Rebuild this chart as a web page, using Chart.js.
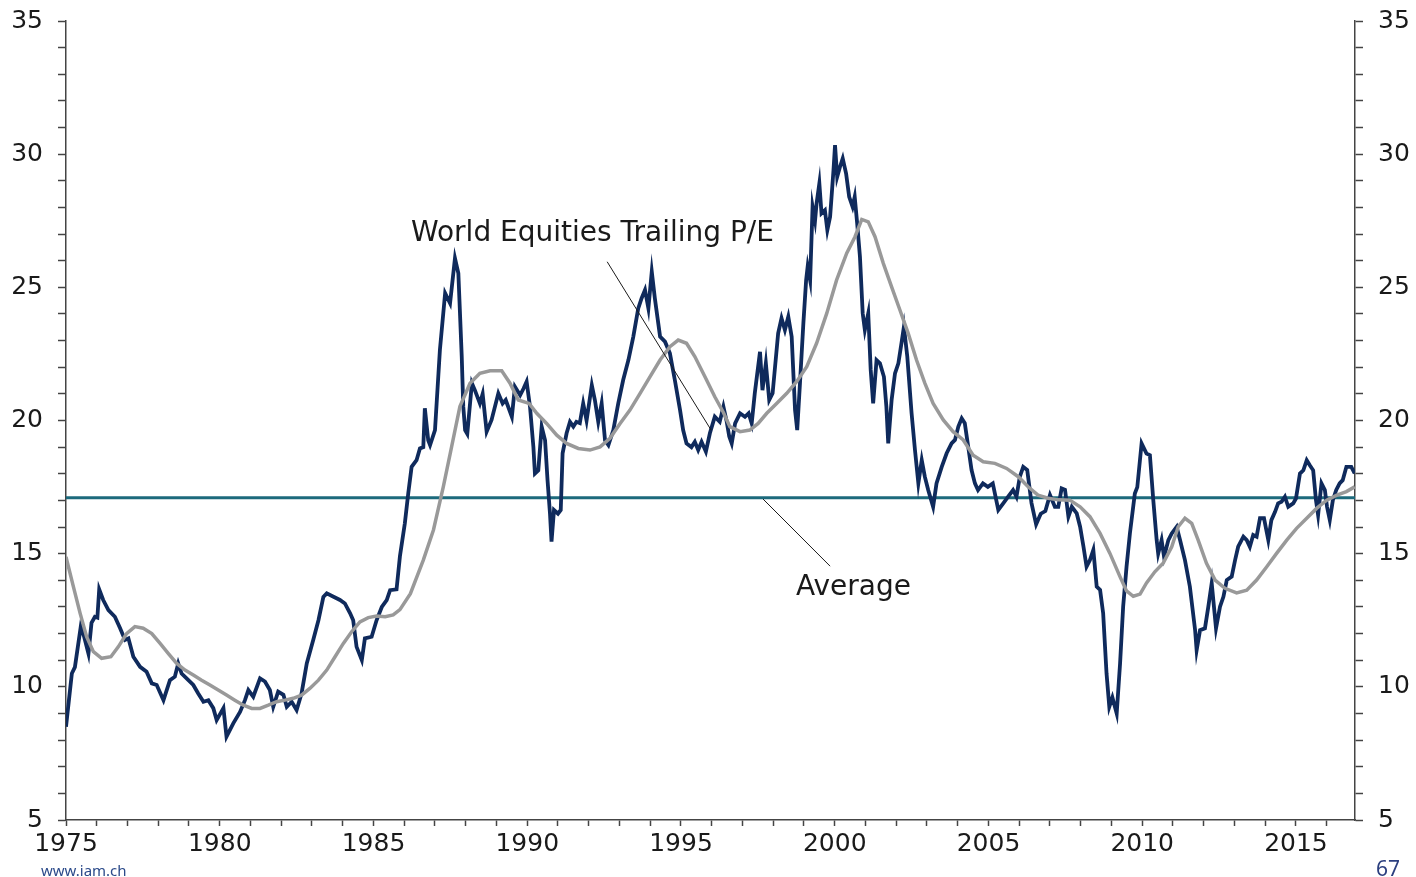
<!DOCTYPE html>
<html>
<head>
<meta charset="utf-8">
<script src="https://cdn.jsdelivr.net/npm/chart.js@4.4.1/dist/chart.umd.min.js"></script>
<style>
    body { margin: 0; background: #fff; }
    #wrap { position: relative; width: 1416px; height: 877px; }
    .foot-left { position: absolute; left: 41px; top: 860px; font: 15px "Noto Sans", sans-serif; color: #2b4a8a; }
    .foot-right { position: absolute; left: 1376px; top: 854px; font: 21px "Noto Sans", sans-serif; color: #2b3f7f; }
</style>
</head>
<body>
<div id="wrap">
    <canvas id="chart"></canvas>
    <div class="foot-left">www.iam.ch</div>
    <div class="foot-right">67</div>
</div>
<script>
// World equities trailing P/E (monthly)
const peYears = [
    1975.00, 1975.19, 1975.29, 1975.48, 1975.59, 1975.73, 1975.83, 1975.94, 1976.02, 1976.08,
    1976.21, 1976.38, 1976.59, 1976.76, 1976.92, 1977.03, 1977.19, 1977.41, 1977.62, 1977.79,
    1977.95, 1978.17, 1978.38, 1978.54, 1978.65, 1978.76, 1978.98, 1979.14, 1979.30, 1979.47,
    1979.63, 1979.79, 1979.90, 1980.12, 1980.22, 1980.44, 1980.66, 1980.82, 1980.93, 1981.09,
    1981.31, 1981.47, 1981.63, 1981.74, 1981.90, 1982.07, 1982.18, 1982.34, 1982.50, 1982.66,
    1982.83, 1983.04, 1983.21, 1983.37, 1983.48, 1983.70, 1983.91, 1984.07, 1984.24, 1984.34,
    1984.45, 1984.62, 1984.72, 1984.94, 1985.10, 1985.27, 1985.43, 1985.54, 1985.75, 1985.86,
    1986.02, 1986.13, 1986.24, 1986.40, 1986.51, 1986.62, 1986.67, 1986.78, 1986.84, 1987.00,
    1987.16, 1987.33, 1987.49, 1987.65, 1987.76, 1987.87, 1987.92, 1987.98, 1988.05, 1988.20,
    1988.30, 1988.46, 1988.55, 1988.68, 1988.84, 1989.06, 1989.20, 1989.30, 1989.50, 1989.60,
    1989.77, 1989.88, 1989.98, 1990.09, 1990.20, 1990.25, 1990.36, 1990.47, 1990.58, 1990.66,
    1990.74, 1990.79, 1990.87, 1991.00, 1991.09, 1991.15, 1991.28, 1991.39, 1991.50, 1991.60,
    1991.71, 1991.82, 1991.93, 1992.10, 1992.20, 1992.31, 1992.42, 1992.53, 1992.64, 1992.80,
    1992.96, 1993.12, 1993.29, 1993.45, 1993.61, 1993.72, 1993.83, 1993.94, 1994.05, 1994.15,
    1994.32, 1994.48, 1994.64, 1994.80, 1994.97, 1995.07, 1995.18, 1995.34, 1995.45, 1995.56,
    1995.67, 1995.81, 1995.94, 1996.10, 1996.26, 1996.38, 1996.48, 1996.57, 1996.65, 1996.76,
    1996.92, 1997.08, 1997.20, 1997.30, 1997.40, 1997.57, 1997.65, 1997.76, 1997.87, 1997.98,
    1998.16, 1998.27, 1998.38, 1998.49, 1998.60, 1998.71, 1998.78, 1998.87, 1998.98, 1999.07,
    1999.12, 1999.20, 1999.28, 1999.36, 1999.41, 1999.50, 1999.57, 1999.68, 1999.76, 1999.85,
    1999.96, 2000.01, 2000.08, 2000.17, 2000.26, 2000.37, 2000.47, 2000.58, 2000.65, 2000.73,
    2000.82, 2000.91, 2000.98, 2001.09, 2001.17, 2001.25, 2001.36, 2001.47, 2001.60, 2001.68,
    2001.74, 2001.85, 2001.96, 2002.07, 2002.17, 2002.25, 2002.36, 2002.50, 2002.61, 2002.72,
    2002.83, 2002.93, 2003.04, 2003.20, 2003.31, 2003.48, 2003.64, 2003.80, 2003.91, 2004.02,
    2004.13, 2004.23, 2004.34, 2004.45, 2004.56, 2004.66, 2004.82, 2004.98, 2005.14, 2005.32,
    2005.48, 2005.64, 2005.80, 2005.91, 2006.02, 2006.13, 2006.26, 2006.40, 2006.55, 2006.70,
    2006.85, 2007.00, 2007.16, 2007.27, 2007.38, 2007.49, 2007.60, 2007.71, 2007.87, 2007.98,
    2008.09, 2008.19, 2008.30, 2008.41, 2008.52, 2008.63, 2008.73, 2008.84, 2008.93, 2009.03,
    2009.17, 2009.28, 2009.38, 2009.49, 2009.60, 2009.76, 2009.84, 2009.98, 2010.14, 2010.25,
    2010.36, 2010.47, 2010.52, 2010.63, 2010.71, 2010.85, 2010.96, 2011.12, 2011.23, 2011.39,
    2011.55, 2011.72, 2011.77, 2011.88, 2012.04, 2012.15, 2012.26, 2012.40, 2012.53, 2012.64,
    2012.75, 2012.91, 2013.02, 2013.12, 2013.29, 2013.40, 2013.50, 2013.61, 2013.72, 2013.83,
    2013.96, 2014.10, 2014.20, 2014.32, 2014.42, 2014.53, 2014.64, 2014.75, 2014.91, 2015.00,
    2015.13, 2015.24, 2015.35, 2015.45, 2015.56, 2015.65, 2015.72, 2015.83, 2015.94, 2016.01,
    2016.10, 2016.20, 2016.31, 2016.42, 2016.52, 2016.64, 2016.80, 2016.91
];
const peValues = [
    8.50, 10.50, 10.74, 12.26, 11.88, 11.25, 12.40, 12.63, 12.60, 13.66,
    13.26, 12.88, 12.63, 12.20, 11.76, 11.82, 11.13, 10.75, 10.57, 10.13,
    10.07, 9.50, 10.25, 10.38, 10.88, 10.50, 10.25, 10.07, 9.75, 9.44,
    9.50, 9.20, 8.75, 9.20, 8.13, 8.63, 9.06, 9.50, 9.88, 9.63,
    10.32, 10.20, 9.88, 9.25, 9.82, 9.70, 9.25, 9.44, 9.13, 9.75,
    10.88, 11.76, 12.50, 13.38, 13.51, 13.38, 13.26, 13.13, 12.76, 12.50,
    11.50, 11.00, 11.82, 11.88, 12.50, 13.00, 13.26, 13.63, 13.66, 14.90,
    16.14, 17.26, 18.26, 18.51, 18.95, 19.00, 20.46, 19.26, 19.08, 19.64,
    22.65, 24.78, 24.40, 26.09, 25.53, 22.40, 20.52, 19.64, 19.50, 21.40,
    21.13, 20.64, 21.00, 19.58, 20.02, 21.02, 20.64, 20.77, 20.14, 21.27,
    20.95, 21.20, 21.46, 20.52, 19.01, 18.01, 18.13, 19.77, 19.26, 17.76,
    16.50, 15.45, 16.64, 16.50, 16.64, 18.77, 19.52, 19.95, 19.77, 19.95,
    19.90, 20.64, 20.00, 21.33, 20.77, 19.95, 20.64, 19.26, 19.08, 19.64,
    20.64, 21.52, 22.27, 23.15, 24.21, 24.59, 24.90, 24.21, 25.59, 24.59,
    23.15, 22.96, 22.52, 21.52, 20.39, 19.64, 19.14, 19.00, 19.20, 18.89,
    19.20, 18.83, 19.52, 20.14, 19.95, 20.52, 20.00, 19.40, 19.14, 19.89,
    20.27, 20.14, 20.27, 19.89, 21.02, 22.58, 21.14, 22.15, 20.77, 21.02,
    23.27, 23.84, 23.40, 23.90, 23.15, 20.39, 19.64, 21.40, 23.65, 25.27,
    25.78, 25.27, 28.03, 27.50, 28.15, 28.90, 27.78, 27.90, 27.15, 27.65,
    29.40, 30.34, 29.15, 29.52, 29.84, 29.27, 28.40, 28.03, 28.40, 27.40,
    26.15, 24.02, 23.40, 24.02, 21.90, 20.64, 22.27, 22.15, 21.64, 20.52,
    19.14, 20.77, 21.77, 22.15, 22.90, 23.52, 22.40, 20.27, 18.89, 17.64,
    18.51, 17.89, 17.39, 16.76, 17.64, 18.26, 18.77, 19.14, 19.27, 19.77,
    20.08, 19.90, 19.02, 18.14, 17.64, 17.39, 17.64, 17.51, 17.64, 16.64,
    16.89, 17.14, 17.39, 17.14, 17.89, 18.26, 18.14, 16.90, 16.10, 16.50,
    16.60, 17.20, 16.76, 16.76, 17.45, 17.40, 16.39, 16.76, 16.51, 16.01,
    15.26, 14.51, 14.76, 15.14, 13.76, 13.64, 12.76, 10.50, 9.25, 9.60,
    9.00, 10.88, 13.01, 14.51, 15.76, 17.26, 17.50, 19.14, 18.76, 18.70,
    17.01, 15.51, 15.00, 15.51, 14.88, 15.51, 15.76, 16.01, 15.51, 14.76,
    13.76, 12.13, 11.38, 12.13, 12.20, 13.01, 13.89, 12.20, 13.01, 13.38,
    14.01, 14.14, 14.76, 15.26, 15.64, 15.51, 15.26, 15.70, 15.64, 16.33,
    16.33, 15.51, 16.26, 16.57, 16.89, 16.95, 17.14, 16.76, 16.89, 17.07,
    18.01, 18.13, 18.51, 18.32, 18.13, 17.01, 16.45, 17.64, 17.39, 16.76,
    16.26, 17.01, 17.39, 17.64, 17.76, 18.26, 18.26, 18.01
];

// grey moving average line
const maYears = [
    1975.00, 1975.24, 1975.46, 1975.67, 1975.89, 1976.16, 1976.46, 1976.70, 1976.97, 1977.24,
    1977.51, 1977.79, 1978.06, 1978.33, 1978.60, 1978.87, 1979.14, 1979.41, 1979.68, 1979.95,
    1980.22, 1980.49, 1980.77, 1981.04, 1981.31, 1981.58, 1981.85, 1982.12, 1982.39, 1982.66,
    1982.93, 1983.21, 1983.48, 1983.75, 1984.02, 1984.29, 1984.56, 1984.83, 1985.10, 1985.38,
    1985.64, 1985.86, 1986.20, 1986.62, 1986.95, 1987.27, 1987.54, 1987.81, 1988.14, 1988.46,
    1988.79, 1989.17, 1989.44, 1989.71, 1990.06, 1990.31, 1990.63, 1990.96, 1991.28, 1991.66,
    1992.04, 1992.37, 1992.69, 1993.02, 1993.34, 1993.67, 1993.99, 1994.32, 1994.64, 1994.91,
    1995.18, 1995.45, 1995.78, 1996.10, 1996.38, 1996.59, 1996.92, 1997.24, 1997.51, 1997.79,
    1998.11, 1998.44, 1998.76, 1999.09, 1999.41, 1999.74, 2000.06, 2000.39, 2000.66, 2000.88,
    2001.09, 2001.31, 2001.58, 2001.85, 2002.12, 2002.39, 2002.66, 2002.93, 2003.20, 2003.53,
    2003.85, 2004.18, 2004.50, 2004.83, 2005.21, 2005.59, 2005.97, 2006.29, 2006.61, 2006.94,
    2007.27, 2007.65, 2007.98, 2008.30, 2008.63, 2008.95, 2009.28, 2009.49, 2009.71, 2009.93,
    2010.14, 2010.41, 2010.68, 2010.96, 2011.17, 2011.39, 2011.61, 2011.82, 2012.09, 2012.37,
    2012.69, 2013.07, 2013.40, 2013.72, 2014.05, 2014.37, 2014.70, 2015.02, 2015.35, 2015.67,
    2016.00, 2016.33, 2016.64, 2016.91
];
const maValues = [
    14.88, 13.76, 12.76, 11.88, 11.32, 11.07, 11.13, 11.50, 12.00, 12.26,
    12.20, 12.00, 11.63, 11.25, 10.88, 10.63, 10.44, 10.25, 10.07, 9.88,
    9.69, 9.50, 9.31, 9.19, 9.19, 9.31, 9.44, 9.50, 9.57, 9.69,
    9.94, 10.25, 10.63, 11.13, 11.63, 12.07, 12.44, 12.60, 12.66, 12.63,
    12.70, 12.90, 13.50, 14.76, 15.89, 17.51, 19.01, 20.52, 21.40, 21.77,
    21.87, 21.87, 21.40, 20.77, 20.64, 20.27, 19.89, 19.45, 19.14, 18.95,
    18.89, 19.01, 19.33, 19.89, 20.39, 21.02, 21.64, 22.27, 22.77, 23.02,
    22.90, 22.40, 21.64, 20.89, 20.30, 19.77, 19.58, 19.64, 19.89, 20.27,
    20.64, 21.02, 21.46, 22.02, 22.90, 24.02, 25.27, 26.28, 26.90, 27.55,
    27.46, 26.90, 25.90, 25.02, 24.15, 23.27, 22.27, 21.40, 20.64, 20.02,
    19.58, 19.27, 18.70, 18.45, 18.39, 18.20, 17.89, 17.51, 17.20, 17.08,
    17.02, 17.01, 16.76, 16.39, 15.76, 15.01, 14.13, 13.60, 13.40, 13.48,
    13.90, 14.32, 14.64, 15.26, 16.01, 16.33, 16.14, 15.51, 14.64, 14.01,
    13.70, 13.53, 13.63, 14.01, 14.51, 15.01, 15.51, 15.95, 16.33, 16.70,
    17.01, 17.20, 17.33, 17.51
];

const averageLevel = 17.1;
const xRange = [1975, 2016.92];
const yRange = [5, 35];
const xLabelYears = [1975, 1980, 1985, 1990, 1995, 2000, 2005, 2010, 2015];
const yLabelValues = [5, 10, 15, 20, 25, 30, 35];

const notes = [
    { text: 'World Equities Trailing P/E', x: 1992.12, y: 27.0, from: [1992.6, 25.96], to: [1995.98, 19.64] },
    { text: 'Average', x: 2000.61, y: 13.71, from: [1997.67, 17.05], to: [1999.85, 14.53] }
];

const toPoints = (xs, ys) => xs.map((x, i) => ({ x: x, y: ys[i] }));

const yearTicks = [];
for (let y = xRange[0]; y <= Math.floor(xRange[1]); y++) yearTicks.push(y);
const unitTicks = [];
for (let v = yRange[0]; v <= yRange[1]; v++) unitTicks.push(v);

const axisColor = '#444444';
const tickFont = { family: '"DejaVu Sans", sans-serif', size: 25 };

const notesPlugin = {
    id: 'notes',
    afterDatasetsDraw(chart) {
        const ctx = chart.ctx;
        const xs = chart.scales.x, ys = chart.scales.y;
        ctx.save();
        ctx.strokeStyle = '#1a1a1a';
        ctx.lineWidth = 1;
        notes.forEach((n) => {
            ctx.beginPath();
            ctx.moveTo(xs.getPixelForValue(n.from[0]), ys.getPixelForValue(n.from[1]));
            ctx.lineTo(xs.getPixelForValue(n.to[0]), ys.getPixelForValue(n.to[1]));
            ctx.stroke();
        });
        ctx.fillStyle = '#1a1a1a';
        ctx.font = '28px "DejaVu Sans", sans-serif';
        ctx.textAlign = 'center';
        ctx.textBaseline = 'middle';
        notes.forEach((n) => {
            ctx.fillText(n.text, xs.getPixelForValue(n.x), ys.getPixelForValue(n.y));
        });
        ctx.restore();
    }
};

const yAxis = (position, width) => ({
    type: 'linear',
    position: position,
    min: yRange[0],
    max: yRange[1],
    afterBuildTicks: (s) => { s.ticks = unitTicks.map((v) => ({ value: v })); },
    afterFit: (s) => { s.width = width; s.paddingTop = 0; s.paddingBottom = 0; },
    grid: { drawOnChartArea: false, tickLength: 8, color: axisColor, tickWidth: 1.5 },
    border: { display: true, color: axisColor, width: 1.5 },
    ticks: {
        autoSkip: false,
        padding: 15,
        color: '#1a1a1a',
        font: tickFont,
        callback: (v) => yLabelValues.includes(v) ? String(v) : ''
    }
});

new Chart(document.getElementById('chart'), {
    type: 'line',
    data: {
        datasets: [
            {
                label: 'Moving average',
                data: toPoints(maYears, maValues),
                borderColor: '#999999',
                borderWidth: 3.5,
                pointRadius: 0,
                tension: 0,
                order: 0
            },
            {
                label: 'World Equities Trailing P/E',
                data: toPoints(peYears, peValues),
                borderColor: '#0f2a5c',
                borderWidth: 3.8,
                pointRadius: 0,
                tension: 0,
                order: 1
            },
            {
                label: 'Average',
                data: toPoints(xRange, [averageLevel, averageLevel]),
                borderColor: '#1c6a7c',
                borderWidth: 3,
                pointRadius: 0,
                order: 2
            }
        ]
    },
    options: {
        responsive: true,
        maintainAspectRatio: false,
        animation: false,
        layout: { padding: { top: 21, left: 0, right: 0, bottom: 0 } },
        scales: {
            x: {
                type: 'linear',
                min: xRange[0],
                max: xRange[1],
                afterBuildTicks: (s) => { s.ticks = yearTicks.map((v) => ({ value: v })); },
                afterFit: (s) => { s.height = 57; },
                grid: { drawOnChartArea: false, tickLength: 6, color: axisColor, tickWidth: 1.5 },
                border: { display: true, color: axisColor, width: 1.5 },
                ticks: {
                    autoSkip: false,
                    maxRotation: 0,
                    padding: 3,
                    color: '#1a1a1a',
                    font: tickFont,
                    callback: (v) => xLabelYears.includes(v) ? String(v) : ''
                }
            },
            y: yAxis('left', 66),
            y2: yAxis('right', 61)
        },
        plugins: {
            legend: { display: false },
            tooltip: { enabled: false }
        }
    },
    plugins: [notesPlugin]
});
</script>
</body>
</html>
